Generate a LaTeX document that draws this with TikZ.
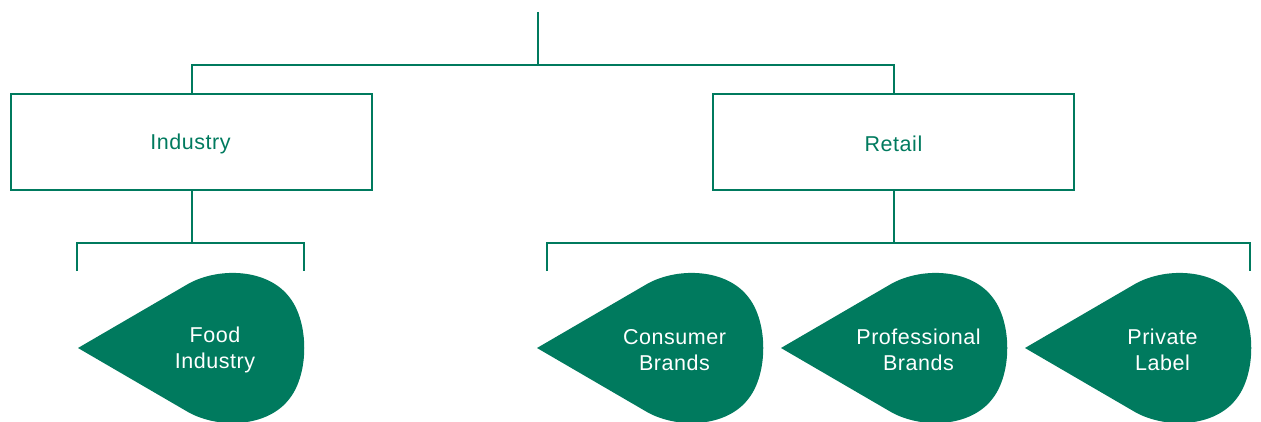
\documentclass[tikz,border=0pt]{standalone}
\usepackage{fontspec}
\setmainfont{Liberation Sans}[LetterSpace=2.5]
\definecolor{brand}{RGB}{0,122,94}
\begin{document}
\begin{tikzpicture}[x=1pt,y=-1pt,
  conn/.style={draw=brand,line width=2pt},
  unitbox/.style={draw=brand,line width=2pt,minimum width=361pt,minimum height=96pt,
    text=brand,inner sep=0pt},
  boxtext/.style={text=brand,font=\fontsize{21.5}{25}\selectfont,inner sep=0pt},
  droptext/.style={text=white,align=center,font=\fontsize{21.5}{26}\selectfont,inner sep=0pt},
  teardrop/.pic={\fill[brand] (0,0) -- (110,-64) .. controls (140,-81) and (190,-80) .. (212,-50)
     .. controls (231,-25) and (231,25) .. (212,50) .. controls (190,80) and (140,81) .. (110,64) -- cycle;}]
\useasboundingbox (0,0) rectangle (1261,422);
% top structure
\coordinate (top) at (538,12);
\coordinate (j0) at (538,65);
\node[unitbox] (ind) at (191.5,142) {};
\node[unitbox] (ret) at (893.5,142) {};
\node[boxtext] (indt) at (190.5,144) {Industry};
\node[boxtext] (rett) at (893.5,144) {Retail};
\draw[conn] (top) -- (j0);
\draw[conn] (ind.north) |- (j0) -| (ret.north);
% industry bracket
\coordinate (ib) at (191.5,243);
\coordinate (fl) at (77,271);
\coordinate (fr) at (304,271);
\draw[conn] (ind.south) -- (ib);
\draw[conn] (fl) |- (ib) -| (fr);
% retail bracket
\coordinate (rb) at (893.5,243);
\coordinate (rl) at (547,271);
\coordinate (rr) at (1250,271);
\draw[conn] (ret.south) -- (rb);
\draw[conn] (rl) |- (rb) -| (rr);
% teardrops
\pic at (78,348) {teardrop};
\pic at (537,348) {teardrop};
\pic at (781,348) {teardrop};
\pic at (1025,348) {teardrop};
\node[droptext] (food) at (215,350) {Food\\Industry};
\node[droptext] (cons) at (674.5,350) {Consumer\\Brands};
\node[droptext] (prof) at (918.5,350) {Professional\\Brands};
\node[droptext] (priv) at (1162.5,350) {Private\\Label};
\end{tikzpicture}
\end{document}
